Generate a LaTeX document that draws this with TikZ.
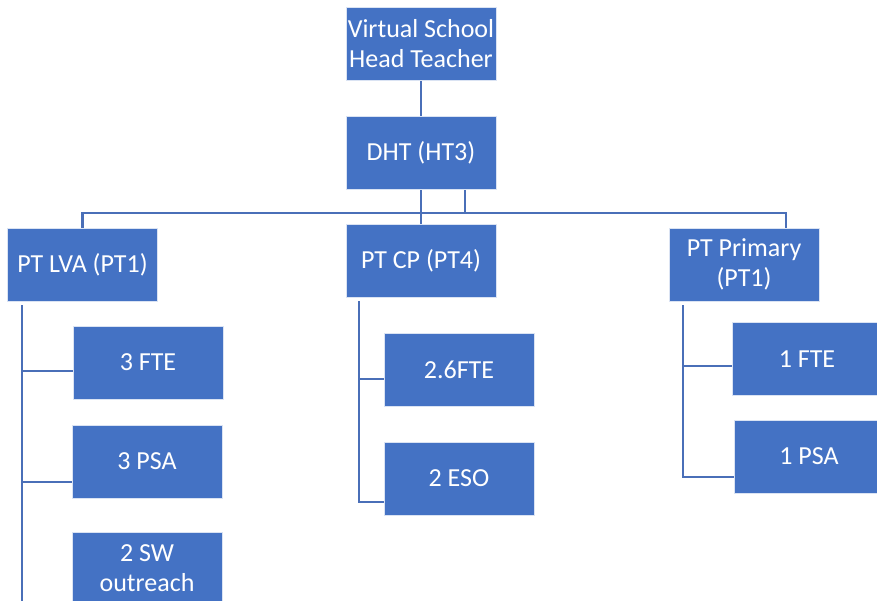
\documentclass[tikz,border=0pt]{standalone}
\usepackage{fontspec}
\setmainfont{Carlito}
\usetikzlibrary{backgrounds}
\definecolor{boxblue}{HTML}{4472C4}
\definecolor{linkblue}{HTML}{4A6FB8}
\begin{document}
\begin{tikzpicture}[x=1pt,y=-1pt,
  orgbox/.style={fill=boxblue, draw=white!80!boxblue, line width=0.8pt,
    minimum width=150pt, minimum height=73pt, inner sep=0pt, text=white,
    align=center, font=\fontsize{26}{30}\selectfont},
  link/.style={draw=linkblue, line width=2.9pt}]
\useasboundingbox (0,0) rectangle (877,601);
\clip (0,0) rectangle (877,601);
\node[orgbox] (vs) at (421,44) {Virtual School\\Head Teacher};
\node[orgbox] (dht) at (421,152.5) {DHT (HT3)};
\node[orgbox] (lva) at (82.5,264.5) {PT LVA (PT1)};
\node[orgbox] (cp) at (421,260.5) {PT CP (PT4)};
\node[orgbox] (prim) at (744,264.5) {PT Primary\\(PT1)};
\node[orgbox] (fte3) at (148,362.5) {3 FTE};
\node[orgbox] (psa3) at (147,461.5) {3 PSA};
\node[orgbox] (sw2) at (147,568.5) {2 SW\\outreach};
\node[orgbox] (fte26) at (459,370) {2.6FTE};
\node[orgbox] (eso2) at (459,478.5) {2 ESO};
\node[orgbox] (fte1) at (807,359) {1 FTE};
\node[orgbox] (psa1) at (809,456.5) {1 PSA};
\begin{scope}[on background layer]
  \draw[link] (vs.south) -- (dht.north);
  \draw[link] (dht.south) -- (cp.north);
  \coordinate (bus) at (421,213);
  \draw[link] (lva.north) |- (bus) -| ([xshift=42pt]prim.north);
  \draw[link] ([xshift=44pt]dht.south) -- ([xshift=44pt]dht.south |- bus);
  % PT LVA branch
  \coordinate (lvaTop) at ([xshift=-60.5pt,yshift=-4pt]lva.south);
  \coordinate (lvaEnd) at (22,620);
  \draw[link] (lvaTop) -- (lvaEnd);
  \draw[link] ([yshift=-8.5pt]fte3.west) -- ([yshift=-8.5pt]fte3.west -| lvaTop);
  \draw[link] ([yshift=-20.5pt]psa3.west) -- ([yshift=-20.5pt]psa3.west -| lvaTop);
  % PT CP branch
  \coordinate (cpTop) at ([xshift=-62pt,yshift=-4pt]cp.south);
  \draw[link] (cpTop) |- ([yshift=-23.5pt]eso2.west);
  \draw[link] ([yshift=-9pt]fte26.west) -- ([yshift=-9pt]fte26.west -| cpTop);
  % PT Primary branch
  \coordinate (primTop) at ([xshift=-61pt,yshift=-4pt]prim.south);
  \draw[link] (primTop) |- ([yshift=-20.5pt]psa1.west);
  \draw[link] ([yshift=-7pt]fte1.west) -- ([yshift=-7pt]fte1.west -| primTop);
\end{scope}
\end{tikzpicture}
\end{document}
